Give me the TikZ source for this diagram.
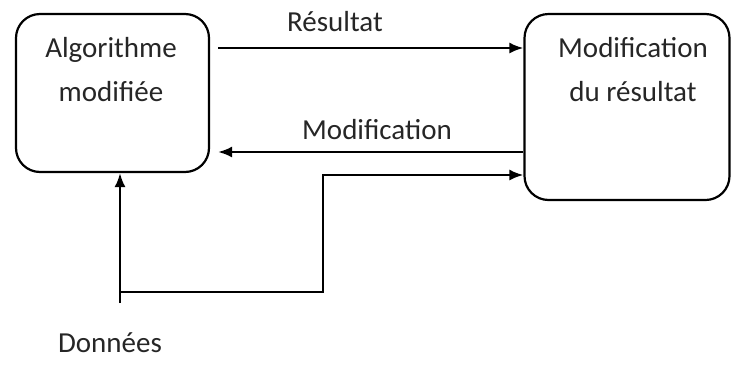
\documentclass[tikz,border=0pt]{standalone}
\usepackage{fontspec}
\setmainfont{Carlito}
\usetikzlibrary{arrows.meta}

\begin{document}
\begin{tikzpicture}
[x=1pt,y=-1pt,line width=2.2pt,%
  every node/.style={inner sep=0pt,text=black!85},%
  bloc/.style={draw,rounded corners=24pt,inner sep=0pt},%
  lbl/.style={align=center,anchor=north},%
  arr/.style={-{Latex[length=14pt,width=11pt]}}]
\fontsize{29}{44}\selectfont
\useasboundingbox (0,0) rectangle (731,365);
% boites
\node[bloc,minimum width=193pt,minimum height=158pt] (alg) at (112.5,93) {};
\node[bloc,minimum width=205pt,minimum height=186pt] (modres) at (627,107) {};
\node[lbl] (algtxt) at (111,36) {Algorithme\\modifiée};
\node[lbl] (modtxt) at (633,36) {Modification\\du résultat};
% entrees
\node (donnees) at (110,343) {Données};
\coordinate (in) at (120,303);
\coordinate (coin) at (323,175);
% fleches
\node (res) at (335,22) {Résultat};
\node (modif) at (377,130) {Modification};
\draw[arr] ([xshift=8pt]alg.east |- 0,48) -- (modres.west |- 0,48);
\draw[arr] (modres.west |- 0,152) -- ([xshift=8pt]alg.east |- 0,152);
\draw[arr] (in) -- (alg.south -| in);
\draw[arr] (in |- 0,292) -| (coin) -- (modres.west |- coin);
\end{tikzpicture}
\end{document}
